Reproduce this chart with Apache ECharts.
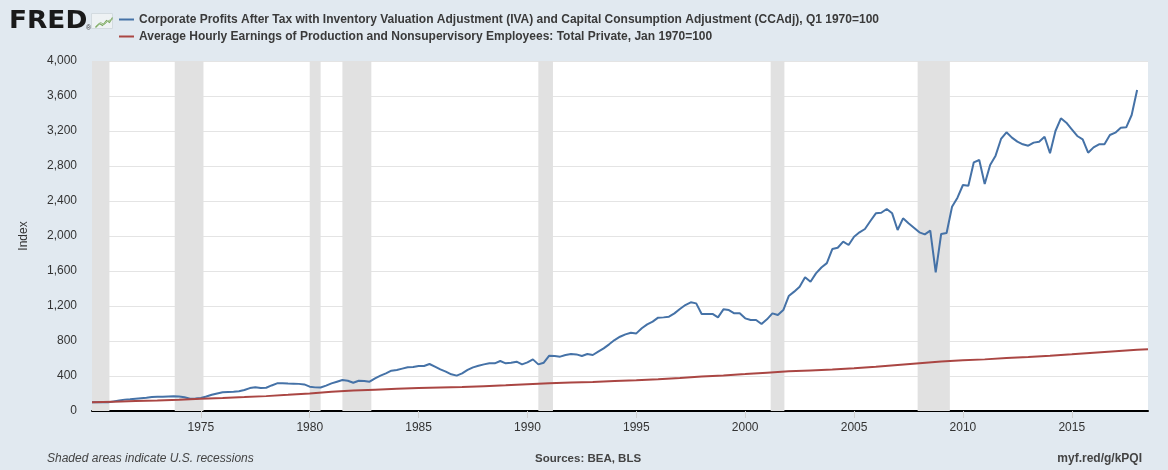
<!DOCTYPE html>
<html><head><meta charset="utf-8">
<script src="https://cdn.jsdelivr.net/npm/echarts/dist/echarts.min.js"></script>
<style>html,body{margin:0;padding:0;background:#e1e9f0}#c{width:1168px;height:470px}</style>
</head><body><div id="c"></div>
<script>
// Corporate Profits After Tax (IVA, CCAdj), Q1 1970=100 — quarterly from 1970 Q1
const profitsStartYear = 1970;
const profits = [
  100, 100, 101, 100,      // 1970
  110, 120, 130, 134,      // 1971
  140, 146, 152, 160,      // 1972
  164, 162, 166, 168,      // 1973
  166, 158, 140, 142,      // 1974
  150, 166, 185, 200,      // 1975
  214, 217, 220, 226,      // 1976
  240, 262, 272, 262,      // 1977
  266, 292, 316, 318,      // 1978
  314, 312, 310, 304,      // 1979
  278, 270, 268, 290,      // 1980
  316, 335, 354, 346,      // 1981
  323, 346, 343, 335,      // 1982
  373, 404, 430, 461,      // 1983
  469, 484, 499, 503,      // 1984
  514, 514, 537, 507,      // 1985
  476, 450, 419, 404,      // 1986
  430, 469, 499, 518,      // 1987
  533, 545, 545, 571,      // 1988
  545, 552, 564, 533,      // 1989
  556, 590, 533, 552,      // 1990
  632, 629, 621, 640,      // 1991
  651, 647, 629, 651,      // 1992
  640, 678, 716, 762,      // 1993
  811, 849, 876, 895,      // 1994
  887, 945, 990, 1021,     // 1995
  1067, 1070, 1078, 1116,  // 1996
  1166, 1211, 1242, 1230,  // 1997
  1109, 1109, 1109, 1070,  // 1998
  1162, 1154, 1116, 1116,  // 1999
  1059, 1040, 1040, 994,   // 2000
  1048, 1116, 1097, 1154,  // 2001
  1314, 1364, 1421, 1528,  // 2002
  1478, 1573, 1640, 1690,  // 2003
  1851, 1866, 1935, 1897,  // 2004
  1992, 2042, 2080, 2171,  // 2005
  2259, 2266, 2309, 2259,  // 2006
  2069, 2202, 2145, 2095,  // 2007
  2042, 2019, 2061, 1585,  // 2008
  2023, 2034, 2335, 2438,  // 2009
  2583, 2575, 2842, 2869,  // 2010
  2594, 2811, 2918, 3109,  // 2011
  3185, 3124, 3078, 3048,  // 2012
  3032, 3067, 3078, 3135,  // 2013
  2945, 3200, 3345, 3295,  // 2014
  3219, 3143, 3105, 2952,  // 2015
  3013, 3048, 3048, 3154,  // 2016
  3181, 3238, 3242, 3383,  // 2017
  3669                     // 2018 Q1
];

// Average Hourly Earnings, Jan 1970=100 — read at the start of each year
const earningsYears = [1970,1971,1972,1973,1974,1975,1976,1977,1978,1979,1980,1981,1982,1983,1984,1985,1986,1987,1988,1989,1990,1991,1992,1993,1994,1995,1996,1997,1998,1999,2000,2001,2002,2003,2004,2005,2006,2007,2008,2009,2010,2011,2012,2013,2014,2015,2016,2017,2018,2018.5];
const earnings = [100,107,114,121,129,140,149,159,170,185,201,219,233,244,253,262,268,274,284,294,307,317,326,332,342,351,363,376,393,407,422,438,453,464,475,489,506,527,546,565,579,590,606,617,632,648,665,682,699,705];

// Recession periods (decimal years)
const recessions = [[1970.0,1970.8],[1973.8,1975.12],[1980.0,1980.5],[1981.5,1982.83],[1990.5,1991.17],[2001.17,2001.8],[2007.92,2009.4]];

const xLabelYears = [1975,1980,1985,1990,1995,2000,2005,2010,2015];
const yMin = 0, yMax = 4000, yStep = 400;

const seriesNames = [
  'Corporate Profits After Tax with Inventory Valuation Adjustment (IVA) and Capital Consumption Adjustment (CCAdj), Q1 1970=100',
  'Average Hourly Earnings of Production and Nonsupervisory Employees: Total Private, Jan 1970=100'
];

const chart = echarts.init(document.getElementById('c'), null, {renderer: 'canvas'});
const FONT = 'Liberation Sans, Arial, sans-serif';

chart.setOption({
  backgroundColor: '#e1e9f0',
  animation: false,
  grid: {left: 92, right: 20, top: 61, bottom: 59, containLabel: false, show: true, backgroundColor: '#ffffff', borderWidth: 0},
  legend: {
    orient: 'vertical', left: 119, top: 12, padding: 0,
    itemWidth: 15, itemHeight: 2, itemGap: 2, icon: 'rect',
    textStyle: {fontFamily: FONT, fontSize: 12, fontWeight: 'bold', color: '#3a3a3a', lineHeight: 15},
    selectedMode: false,
    data: seriesNames
  },
  xAxis: {
    type: 'value', min: 1970, max: 2018.5, interval: 5,
    axisLine: {show: true, onZero: false, lineStyle: {color: '#000', width: 2}},
    axisTick: {show: true, length: 7, customValues: xLabelYears, lineStyle: {color: '#d0d0d0'}},
    axisLabel: {customValues: xLabelYears, margin: 11, fontFamily: FONT, fontSize: 12, color: '#333', formatter: v => String(v)},
    splitLine: {show: false}
  },
  yAxis: {
    type: 'value', min: yMin, max: yMax, interval: yStep,
    name: 'Index', nameLocation: 'middle', nameGap: 62,
    nameTextStyle: {fontFamily: FONT, fontSize: 12, color: '#333'},
    axisLine: {show: false}, axisTick: {show: false},
    axisLabel: {margin: 15, fontFamily: FONT, fontSize: 12, color: '#333', formatter: v => v.toLocaleString('en-US')},
    splitLine: {show: true, lineStyle: {color: '#e4e4e4', width: 1}}
  },
  series: [
    {
      name: seriesNames[0], type: 'line', showSymbol: false, symbol: 'none',
      lineStyle: {color: '#4572a7', width: 2}, itemStyle: {color: '#4572a7'},
      data: profits.map((v, i) => [profitsStartYear + i / 4, v]),
      markArea: {
        silent: true,
        itemStyle: {color: '#e1e1e1'},
        data: recessions.map(r => [{xAxis: r[0]}, {xAxis: r[1]}])
      }
    },
    {
      name: seriesNames[1], type: 'line', showSymbol: false, symbol: 'none',
      lineStyle: {color: '#aa4643', width: 2}, itemStyle: {color: '#aa4643'},
      data: earnings.map((v, i) => [earningsYears[i], v])
    }
  ],
  graphic: [
    {type: 'text', x: 9, y: 10, scaleX: 1.1, style: {text: 'FRED', font: 'bold 24px DejaVu Sans, sans-serif', fill: '#1a1a1a'}},
    {type: 'text', left: 86, top: 25, style: {text: '®', font: '7px ' + FONT, fill: '#333'}},
    {type: 'rect', left: 91, top: 13, shape: {width: 21, height: 15}, style: {fill: '#eef2f4', stroke: '#d3dbe0', lineWidth: 1}},
    {type: 'polyline', left: 93, top: 15, shape: {points: [[0,11],[4,7],[7,9],[11,4],[14,6],[17,1]]}, style: {stroke: '#7aa85f', lineWidth: 1.2, fill: null}},
    {type: 'polyline', left: 93, top: 17, shape: {points: [[0,10],[5,6],[9,8],[13,4],[17,3]]}, style: {stroke: '#9bbf84', lineWidth: 1, fill: null}},
    {type: 'text', left: 47, top: 453, style: {text: 'Shaded areas indicate U.S. recessions', font: 'italic 12px ' + FONT, fill: '#444'}},
    {type: 'text', left: 535, top: 453, style: {text: 'Sources: BEA, BLS', font: 'bold 11.5px ' + FONT, fill: '#444'}},
    {type: 'text', right: 26, top: 453, style: {text: 'myf.red/g/kPQI', font: 'bold 12px ' + FONT, fill: '#444'}}
  ]
});
</script>
</body></html>
